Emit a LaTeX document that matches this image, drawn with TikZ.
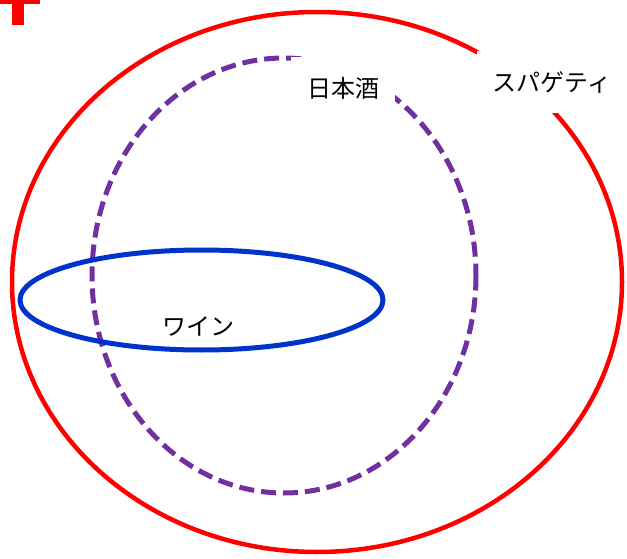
\documentclass[tikz,border=0pt]{standalone}
\usepackage{fontspec}
\newfontfamily\jpfont{Noto Sans CJK JP}
\definecolor{redc}{RGB}{255,0,0}
\definecolor{purplec}{RGB}{112,48,160}
\definecolor{bluec}{RGB}{0,51,204}
\tikzset{
  setline/.style={line width=5pt},
  lbl/.style={font=\jpfont\fontsize{24}{24}\selectfont, inner sep=0pt, text=black},
  lblbox/.style={lbl, fill=white, inner xsep=16pt, inner ysep=20pt}
}
\begin{document}
\begin{tikzpicture}[x=1pt,y=-1pt]
\useasboundingbox (0,0) rectangle (627,559);
% red T fragment
\fill[redc] (0,0) rectangle (40,4);
\fill[redc] (12,0) rectangle (24,25);
% sets
\draw[setline, line width=4.5pt, redc] (317,282) ellipse [x radius=305, y radius=270];
\draw[setline, purplec, dash pattern=on 15pt off 7pt] (284,275.5) ellipse [x radius=192, y radius=217.5];
\draw[setline, bluec] (201.5,300) ellipse [x radius=181.5, y radius=50];
% labels
\node[lblbox] (sake) at (343,88.5) {日本酒};
\node[lblbox] (spag) at (552,82) {スパゲティ};
\node[lbl] (wine) at (198,327) {ワイン};
\end{tikzpicture}
\end{document}
